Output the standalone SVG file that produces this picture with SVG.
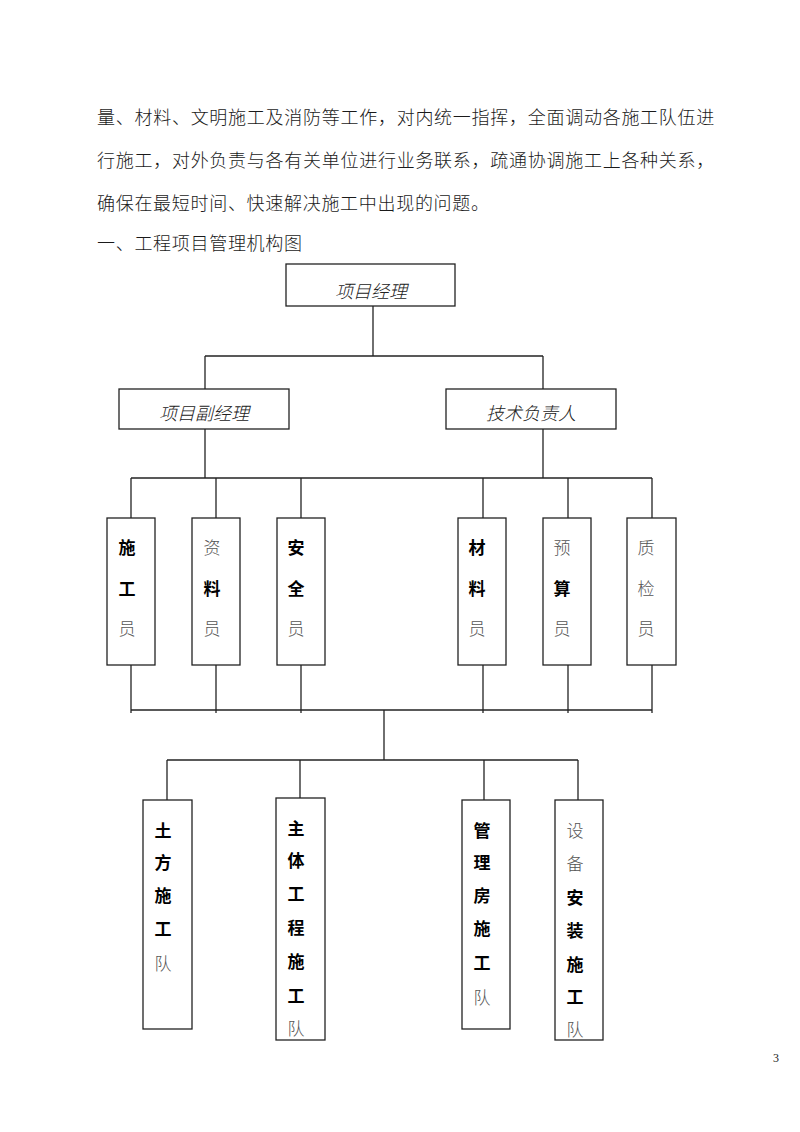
<svg xmlns="http://www.w3.org/2000/svg" width="800" height="1132" viewBox="0 0 800 1132">
<style>
.body{font-family:"Liberation Serif","Noto Sans CJK SC",serif;font-size:18px;font-weight:300;letter-spacing:0.7px;fill:#1a1a1a}
.box{fill:#fff;stroke:#222;stroke-width:1.3}
.ital{font-family:"Noto Sans CJK SC",sans-serif;font-size:18px;font-weight:300;font-style:italic;fill:#222;text-anchor:middle;dominant-baseline:central}
.ch{font-family:"Noto Sans CJK SC",sans-serif;font-size:17px;text-anchor:middle;dominant-baseline:central}
.b{font-weight:bold;fill:#000}
.n{font-weight:300;fill:#555}
.conn line{stroke:#222;stroke-width:1.3}
</style>
<rect width="800" height="1132" fill="#fff"/>
<g id="paragraph">
<text class="body" x="97" y="124" textLength="618">量、材料、文明施工及消防等工作，对内统一指挥，全面调动各施工队伍进</text>
<text class="body" x="97" y="167" textLength="618">行施工，对外负责与各有关单位进行业务联系，疏通协调施工上各种关系，</text>
<text class="body" x="97" y="210">确保在最短时间、快速解决施工中出现的问题。</text>
<text class="body" x="97" y="250">一、工程项目管理机构图</text>
</g>
<g class="conn" id="connectors">
<line x1="373" y1="306" x2="373" y2="356"/>
<line x1="205" y1="356" x2="543" y2="356"/>
<line x1="205" y1="356" x2="205" y2="389"/>
<line x1="543" y1="356" x2="543" y2="389"/>
<line x1="205" y1="429" x2="205" y2="478"/>
<line x1="543" y1="429" x2="543" y2="478"/>
<line x1="131" y1="478" x2="652" y2="478"/>
<line x1="131" y1="478" x2="131" y2="518"/>
<line x1="216" y1="478" x2="216" y2="518"/>
<line x1="301" y1="478" x2="301" y2="518"/>
<line x1="483" y1="478" x2="483" y2="518"/>
<line x1="568" y1="478" x2="568" y2="518"/>
<line x1="652" y1="478" x2="652" y2="518"/>
<line x1="131" y1="665" x2="131" y2="713"/>
<line x1="216" y1="665" x2="216" y2="713"/>
<line x1="301" y1="665" x2="301" y2="713"/>
<line x1="483" y1="665" x2="483" y2="713"/>
<line x1="568" y1="665" x2="568" y2="713"/>
<line x1="652" y1="665" x2="652" y2="713"/>
<line x1="131" y1="710" x2="652" y2="710"/>
<line x1="384" y1="710" x2="384" y2="760"/>
<line x1="167" y1="760" x2="578" y2="760"/>
<line x1="167" y1="760" x2="167" y2="800"/>
<line x1="300" y1="760" x2="300" y2="798"/>
<line x1="484" y1="760" x2="484" y2="800"/>
<line x1="578" y1="760" x2="578" y2="800"/>
</g>
<g id="n-pm"><rect class="box" x="286" y="264" width="169" height="42"/><text class="ital" x="371" y="290">项目经理</text></g>
<g id="n-dpm"><rect class="box" x="119" y="389" width="170" height="40"/><text class="ital" x="204" y="412">项目副经理</text></g>
<g id="n-tech"><rect class="box" x="446" y="389" width="170" height="40"/><text class="ital" x="531" y="412">技术负责人</text></g>
<g id="n-sgy"><rect class="box" x="107" y="518" width="48" height="147"/><text class="ch b" x="127" y="546">施</text><text class="ch b" x="127" y="587">工</text><text class="ch n" x="127" y="627">员</text></g>
<g id="n-zly"><rect class="box" x="192" y="518" width="48" height="147"/><text class="ch n" x="212" y="546">资</text><text class="ch b" x="212" y="587">料</text><text class="ch n" x="212" y="627">员</text></g>
<g id="n-aqy"><rect class="box" x="277" y="518" width="48" height="147"/><text class="ch b" x="296" y="546">安</text><text class="ch b" x="296" y="587">全</text><text class="ch n" x="296" y="627">员</text></g>
<g id="n-cly"><rect class="box" x="458" y="518" width="48" height="147"/><text class="ch b" x="477" y="546">材</text><text class="ch b" x="477" y="587">料</text><text class="ch n" x="477" y="627">员</text></g>
<g id="n-ysy"><rect class="box" x="543" y="518" width="48" height="147"/><text class="ch n" x="562" y="546">预</text><text class="ch b" x="562" y="587">算</text><text class="ch n" x="562" y="627">员</text></g>
<g id="n-zjy"><rect class="box" x="627" y="518" width="49" height="147"/><text class="ch n" x="646" y="546">质</text><text class="ch n" x="646" y="587">检</text><text class="ch n" x="646" y="627">员</text></g>
<g id="n-tf"><rect class="box" x="143" y="800" width="49" height="229"/><text class="ch b" x="163" y="829">土</text><text class="ch b" x="163" y="861">方</text><text class="ch b" x="163" y="894">施</text><text class="ch b" x="163" y="927">工</text><text class="ch n" x="163" y="962">队</text></g>
<g id="n-zt"><rect class="box" x="276" y="798" width="49" height="242"/><text class="ch b" x="296" y="827">主</text><text class="ch b" x="296" y="859">体</text><text class="ch b" x="296" y="892">工</text><text class="ch b" x="296" y="926">程</text><text class="ch b" x="296" y="960">施</text><text class="ch b" x="296" y="994">工</text><text class="ch n" x="296" y="1027">队</text></g>
<g id="n-glf"><rect class="box" x="462" y="800" width="48" height="229"/><text class="ch b" x="482" y="829">管</text><text class="ch b" x="482" y="861">理</text><text class="ch b" x="482" y="894">房</text><text class="ch b" x="482" y="927">施</text><text class="ch b" x="482" y="961">工</text><text class="ch n" x="482" y="996">队</text></g>
<g id="n-sb"><rect class="box" x="555" y="800" width="48" height="240"/><text class="ch n" x="575" y="829">设</text><text class="ch n" x="575" y="862">备</text><text class="ch b" x="575" y="896">安</text><text class="ch b" x="575" y="929">装</text><text class="ch b" x="575" y="963">施</text><text class="ch b" x="575" y="995">工</text><text class="ch n" x="575" y="1028">队</text></g>
<text x="776" y="1062" font-family="Liberation Serif, serif" font-size="12" fill="#222" text-anchor="middle">3</text>
</svg>
